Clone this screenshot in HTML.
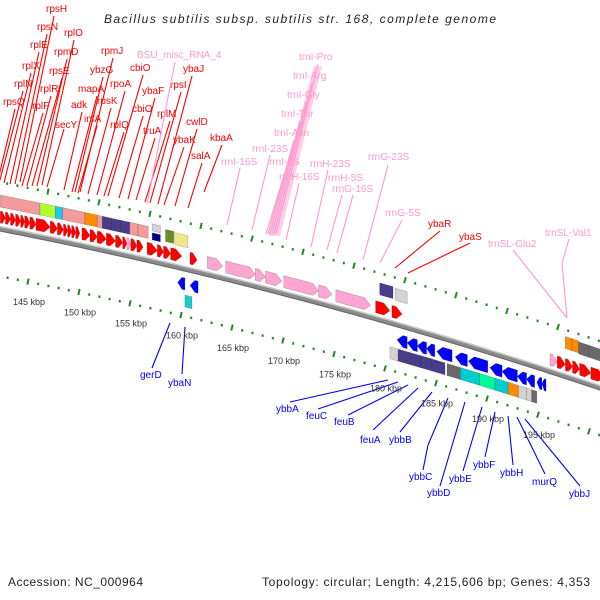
<!DOCTYPE html>
<html><head><meta charset="utf-8"><style>
html,body{margin:0;padding:0;background:#fff}
svg{display:block}
text{font-family:"Liberation Sans",sans-serif}
</style></head><body>
<svg id="map" width="600" height="600" viewBox="0 0 600 600">
<rect width="600" height="600" fill="#fff"/>
<text x="300" y="23" text-anchor="middle" font-size="12" font-style="italic" fill="#222" textLength="392">Bacillus subtilis subsp. subtilis str. 168, complete genome</text>
<text x="8" y="586" font-size="12" fill="#222" textLength="135">Accession: NC_000964</text>
<text x="590" y="586" text-anchor="end" font-size="12" fill="#222" textLength="328">Topology: circular; Length: 4,215,606 bp; Genes: 4,353</text>
<g id="labels"></g>
<g id="ticks"></g>
<g id="backbone"></g>
<g id="features"></g>
</svg>
<script>
// ---- data (kbp) ----
var tickStart = 140, tickEnd = 201;
var kbpLabels = [145,150,155,160,165,170,175,180,185,190,195];
// forward genes: start, end, color
var fwdStart = [141.3,141.8,142.3,142.8,143.3,143.7,144.2,144.8,146.2,146.9,147.5,147.9,148.3,148.7,149.3,150.1,150.8,151.7,152.6,153.3,153.7,154.1,154.7,155.7,156.7,157.3,158.0,159.9,161.6,163.4,166.3,167.3,169.1,172.5,174.2,178.1,179.7,195.2,195.9,196.7,197.4,198.1,199.2];
var fwdEnd   = [141.8,142.3,142.8,143.3,143.7,144.2,144.8,146.2,146.9,147.5,147.9,148.3,148.7,149.1,150.1,150.8,151.7,152.6,153.3,153.7,154.1,154.7,155.3,156.7,157.3,158.0,159.1,160.6,163.1,166.3,167.3,168.9,172.5,173.8,177.6,179.5,180.7,195.9,196.7,197.4,198.1,199.2,200.5];
var fwdColor = ["r","r","r","r","r","r","r","r","r","r","r","r","r","r","r","r","r","r","r","r","p","r","r","r","r","r","r","r","p","p","p","p","p","p","p","r","r","p","r","r","r","r","r"];
// forward COG boxes
var fboxStart = [141.3,145.2,146.7,147.4,149.6,150.8,151.3,152.2,153.1,154.0,154.8,156.2,156.2,157.5,158.4,178.5,180.0,196.7,197.35,198.0,199.0];
var fboxEnd   = [145.2,146.7,147.4,149.6,150.8,151.3,152.2,153.1,154.0,154.8,155.8,157.0,157.0,158.3,159.7,179.8,181.2,197.35,198.0,199.0,200.5];
var fboxColor = ["#f39a9a","#adff2f","#1ec8f5","#f39a9a","#ff8c00","#f39a9a","#483d8b","#483d8b","#483d8b","#f39a9a","#f39a9a","#d3d3d3","#000080","#6b8e23","#f0e68c","#483d8b","#d3d3d3","#ff8c00","#ff8c00","#696969","#696969"];
var fboxOff   = [27,27,27,27,27,27,27,27,27,27,27,33,24,28,27,30,29,33,33,32,32];
// reverse genes
var revStart = [158.7,159.9,180.2,181.2,182.2,183.1,184.1,185.9,187.2,189.3,190.5,192.0,192.9,193.9,194.4];
var revEnd   = [159.4,160.7,181.2,182.2,183.1,183.9,185.6,187.1,189.1,190.5,192.0,192.9,193.7,194.4,194.8];
// reverse COG boxes
var rboxStart = [159.4,179.5,180.3,181.4,182.5,183.6,185.1,186.4,188.3,189.8,191.1,192.1,192.9,193.4];
var rboxEnd   = [160.1,180.3,181.4,182.5,183.6,184.9,186.4,188.3,189.8,191.1,192.1,192.9,193.4,193.9];
var rboxColor = ["#20c8c8","#d3d3d3","#483d8b","#483d8b","#483d8b","#483d8b","#696969","#00cdcd","#00fa9a","#00cdcd","#ff8c00","#d3d3d3","#d3d3d3","#696969"];

// ---- annotation labels: text, x, baseline y, line points ----
var redLabels = [
["rpsH",46,12,[[54,16],[20,182]]],["rpsN",37,30,[[47,34],[15,184]]],["rplO",64,36,[[74,40],[42,185]]],
["rplE",30,48,[[39,52],[10,184]]],["rpmD",54,55,[[67,59],[37,186]]],["rpmJ",101,54,[[113,58],[80,192]]],
["rplX",22,69,[[31,73],[4,183]]],["rpsE",49,74,[[62,78],[32,186]]],["ybzG",90,73,[[103,77],[75,192]]],
["cbiO",130,71,[[143,75],[108,196]]],["ybaJ",183,72,[[192,76],[158,204]]],["rplN",14,87,[[23,91],[0,180]]],
["rplR",40,92,[[51,96],[27,186]]],["mapA",78,92,[[97,96],[72,192]]],["rpoA",110,87,[[125,91],[97,195]]],
["ybaF",142,94,[[155,98],[128,199]]],["rpsI",170,88,[[181,92],[150,203]]],["rpsQ",3,105,[[15,109],[-2,180]]],
["rplF",32,109,[[43,113],[22,186]]],["adk",71,108,[[82,112],[64,190]]],["rpsK",97,104,[[111,108],[88,194]]],
["cbiO",132,112,[[143,116],[119,198]]],["rplM",157,117,[[170,121],[145,202]]],["infA",84,122,[[97,126],[78,193]]],
["secY",55,128,[[64,129],[47,187]]],["rplQ",110,128,[[124,132],[104,196]]],["truA",143,134,[[155,138],[136,200]]],
["cwlD",186,125,[[197,129],[175,206]]],["ybaK",173,143,[[184,147],[164,205]]],["kbaA",210,141,[[222,145],[204,192]]],
["salA",191,159,[[202,163],[188,208]]],["ybaR",428,227,[[440,231],[395,268]]],["ybaS",459,240,[[470,243],[408,273]]]];
var pinkLabels = [
["BSU_misc_RNA_4",137,58,[[175,62],[147,204]]],
["trnI-Pro",299,60,[[318,64],[276,234]]],["trnI-Arg",293,79,[[312,83],[274,234]]],
["trnI-Gly",287,98,[[306,102],[272,234]]],["trnI-Thr",281,117,[[300,121],[270,234]]],
["trnI-Asn",274,136,[[294,140],[268,234]]],
["rrnI-23S",252,152,[[270,155],[252,230]]],["rrnI-16S",221,165,[[240,168],[227,225]]],
["rrnI-5S",269,165,[[286,169],[266,234]]],["rrnH-23S",310,167,[[328,170],[311,247]]],
["rrnH-16S",279,180,[[299,183],[286,240]]],["rrnH-5S",328,181,[[342,195],[327,250]]],
["rrnG-16S",332,192,[[353,195],[337,253]]],["rrnG-23S",368,160,[[388,165],[363,260]]],
["rrnG-5S",385,216,[[402,220],[380,263]]],["trnSL-Glu2",488,247,[[513,250],[567,318]]],
["trnSL-Val1",545,236,[[569,239],[562,263],[567,318]]]];
var blueLabels = [
["gerD",140,378,[[170,323],[152,368]]],["ybaN",168,386,[[185,327],[182,374]]],
["ybbA",276,412,[[388,380],[290,402]]],["feuC",306,419,[[398,382],[318,409]]],
["feuB",334,425,[[408,385],[348,415]]],["feuA",360,443,[[418,388],[373,430]]],
["ybbB",389,443,[[432,392],[400,432]]],["ybbC",409,480,[[448,398],[428,445],[423,470]]],
["ybbD",427,496,[[465,402],[440,486]]],["ybbE",449,482,[[482,407],[463,471]]],
["ybbF",473,468,[[495,412],[485,457]]],["ybbH",500,476,[[508,416],[513,465]]],
["murQ",532,485,[[517,417],[545,474]]],["ybbJ",569,497,[[525,419],[580,486]]]];

// ---- geometry ----
var NS = "http://www.w3.org/2000/svg";
function B(x){ return 228 + 0.195*x + 1.167e-4*x*x; }
function S(x){ return 0.195 + 2.334e-4*x; }
function xb(k){ return 38 + (k-145)*10.2; }
function mk(tag, attrs, parent){
  var e = document.createElementNS(NS, tag);
  for (var a in attrs) e.setAttribute(a, attrs[a]);
  parent.appendChild(e);
  return e;
}
function pt(x, d){ return x.toFixed(1)+","+(B(x)-d).toFixed(1); }

var gL = document.getElementById("labels");
var gT = document.getElementById("ticks");
var gB = document.getElementById("backbone");
var gF = document.getElementById("features");

// backbone
var bp1 = [], bp2 = [], bp3 = [];
for (var x = -5; x <= 605; x += 5){ bp1.push(x+","+(B(x)+1).toFixed(1)); bp2.push(x+","+(B(x)-1.5).toFixed(1)); bp3.push(x+","+(B(x)+3).toFixed(1)); }
var bb = mk("polyline",{points:bp1.join(" "),fill:"none",stroke:"#8a8a8a","stroke-width":"5"},gB);


var bbh = mk("polyline",{points:bp2.join(" "),fill:"none",stroke:"#c8c8c8","stroke-width":"1.5"},gB);


var bbs = mk("polyline",{points:bp3.join(" "),fill:"none",stroke:"#666","stroke-width":"1"},gB);



// ticks
for (var k = tickStart; k <= tickEnd; k++){
  var major = (k % 5 === 0);
  [[10,-46],[-10,48]].forEach(function(tr, idx){
    var x = xb(k) + tr[0];
    if (x < -3 || x > 603) return;
    var y = B(x) - (tr[1] < 0 ? 46 : -48);
    var el;
    if (major){
      var s = S(x);
      el = mk("line",{x1:(x+s*3).toFixed(1),y1:(y-3).toFixed(1),x2:(x-s*3).toFixed(1),y2:(y+3).toFixed(1),stroke:"#1f8a1f","stroke-width":"2"},gT);
      
      
    } else {
      el = mk("rect",{x:(x-1).toFixed(1),y:(y-1).toFixed(1),width:"2",height:"2.5",fill:"#1f8a1f"},gT);
      
      
    }
  });
}
kbpLabels.forEach(function(k){
  var x = xb(k) - 10 + 1;
  var y = B(x) + 48 + 23;
  var t = mk("text",{x:x.toFixed(1),y:y.toFixed(1),"text-anchor":"middle","font-size":"9",fill:"#333"},gT);
  t.textContent = k + " kbp";
  
  
});

// feature shapes
var RED = "#ff0000", PINK = "#ffa6d2";
function arrow(k1, k2, d, h, dir, fill){
  var x1 = xb(k1), x2 = xb(k2);
  var t = Math.min(6, (x2-x1)*0.6);
  var p;
  if (dir > 0){
    p = [pt(x1,d+h/2), pt(x2-t,d+h/2), pt(x2,d), pt(x2-t,d-h/2), pt(x1,d-h/2)];
  } else {
    p = [pt(x2,d+h/2), pt(x1+t,d+h/2), pt(x1,d), pt(x1+t,d-h/2), pt(x2,d-h/2)];
  }
  return mk("polygon",{points:p.join(" "),fill:fill,stroke:"rgba(0,0,0,0.25)","stroke-width":"0.6"},gF);
}
function box(k1, k2, d, h, fill){
  var x1 = xb(k1), x2 = xb(k2);
  var p = [pt(x1,d+h/2), pt(x2,d+h/2), pt(x2,d-h/2), pt(x1,d-h/2)];
  return mk("polygon",{points:p.join(" "),fill:fill,stroke:"rgba(0,0,0,0.25)","stroke-width":"0.6"},gF);
}
for (var i = 0; i < fwdStart.length; i++){
  var a = arrow(fwdStart[i], fwdEnd[i], 11, 12, 1, fwdColor[i] === "p" ? PINK : RED);
  
  
}
for (var i = 0; i < fboxStart.length; i++){
  var h = (fboxOff[i] === 33 && fboxColor[i] === "#d3d3d3") || fboxOff[i] === 24 ? 7 : 12;
  var b = box(fboxStart[i], fboxEnd[i], fboxOff[i], h, fboxColor[i]);
  
  
}
for (var i = 0; i < revStart.length; i++){
  var a = arrow(revStart[i], revEnd[i], -16, 12, -1, "#0000ff");
  
  
}
for (var i = 0; i < rboxStart.length; i++){
  var b = box(rboxStart[i], rboxEnd[i], i === 0 ? -33 : -31, 12, rboxColor[i]);
  
  
}

// labels
function drawLabels(list, color, name){
  list.forEach(function(L){
    var pts = L[3].map(function(p){ return p[0]+","+p[1]; }).join(" ");
    var ln = mk("polyline",{points:pts,fill:"none",stroke:color,"stroke-width":"1.1"},gL);
    
    
    var t = mk("text",{x:L[1],y:L[2],"font-size":"10",fill:color},gL);
    t.textContent = L[0];
    
    
  });
}
// trnI bundle band
var band = mk("polygon",{points:"314,66 322,66 280,236 268,236",fill:"#ffc0e0",opacity:"0.8"},gL);


drawLabels(redLabels, "#ff0000", "gene");
drawLabels(pinkLabels, "#ff99cc", "rna");
drawLabels(blueLabels, "#0000ff", "reverse-gene");
</script>
</body></html>
